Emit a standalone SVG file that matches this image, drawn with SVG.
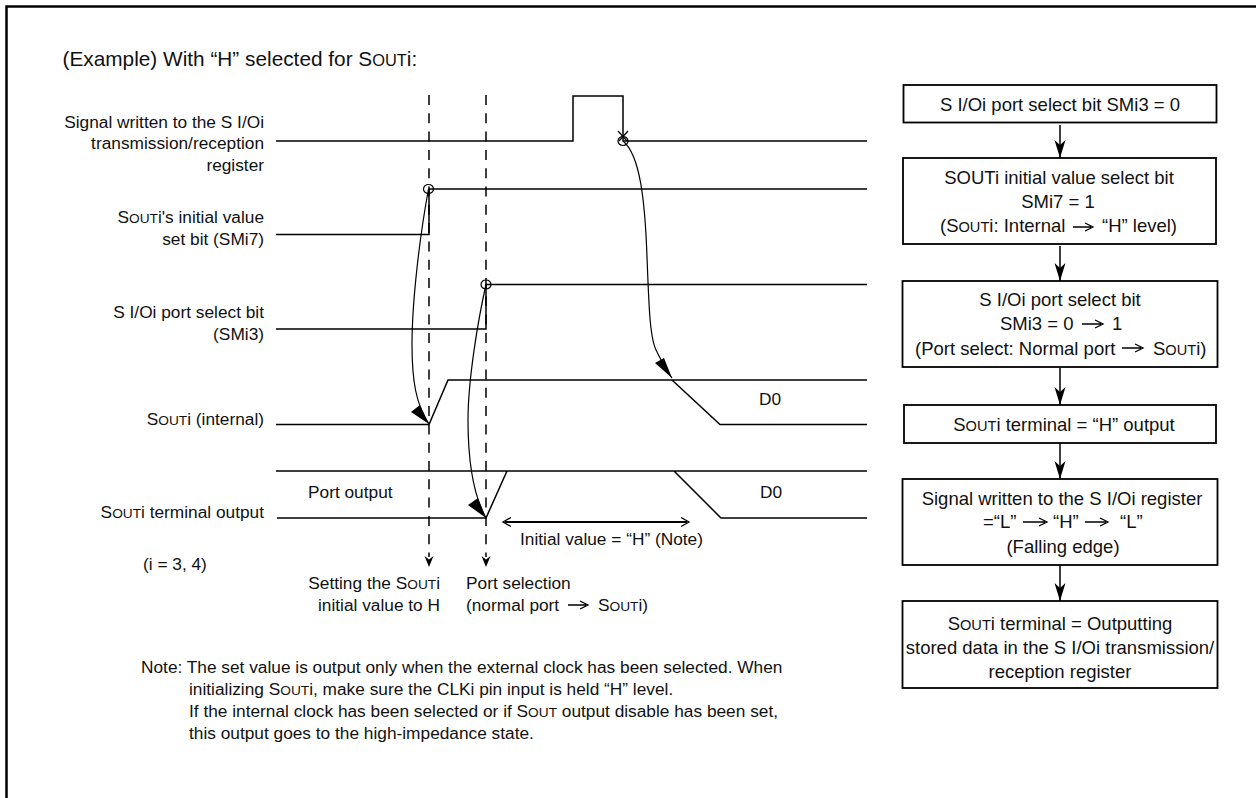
<svg xmlns="http://www.w3.org/2000/svg" width="1256" height="798" viewBox="0 0 1256 798">
<style>
text{font-family:"Liberation Sans",Arial,sans-serif;font-size:17.3px;fill:#111}
.m{text-anchor:middle}.e{text-anchor:end}
.sc{font-size:13.7px}
.t{font-size:20.8px}.t .sc{font-size:16.4px}
.f text{font-size:18.5px}.f .sc{font-size:14.6px}
.l,.s{fill:none;stroke:#000;stroke-width:1.5}
.d{stroke-dasharray:10 8.3;fill:none;stroke:#000;stroke-width:1.5}
.c{fill:none;stroke:#000;stroke-width:1.2}
.b{fill:#fff;stroke:#000;stroke-width:1.8}
.a{fill:#000;stroke:none}
.ar{fill:none;stroke:#000;stroke-width:1.3}
</style>
<defs>
<marker id="fl" markerUnits="userSpaceOnUse" markerWidth="20" markerHeight="18" refX="18" refY="9" orient="auto"><path d="M0,3.500L18,9L0,14.500L5,9Z" fill="#000"/></marker>
</defs>
<path id="frame" d="M6.500 798V6.500H1256" fill="none" stroke="#000" stroke-width="2.500"/>
<text class="t" x="62.500" y="66">(Example) With “H” selected for S<tspan class="sc">OUT</tspan>i:</text>
<g id="labels">
<text class="e" x="264" y="128">Signal written to the S I/Oi</text>
<text class="e" x="264" y="149">transmission/reception</text>
<text class="e" x="264" y="171">register</text>
<text class="e" x="264" y="223">S<tspan class="sc">OUT</tspan>i's initial value</text>
<text class="e" x="264" y="245">set bit (SMi7)</text>
<text class="e" x="264" y="318">S I/Oi port select bit</text>
<text class="e" x="264" y="340">(SMi3)</text>
<text class="e" x="264" y="425">S<tspan class="sc">OUT</tspan>i (internal)</text>
<text class="e" x="264" y="518">S<tspan class="sc">OUT</tspan>i terminal output</text>
<text x="143" y="570">(i = 3, 4)</text>
<text x="308" y="498">Port output</text>
<text x="759" y="405">D0</text>
<text x="760" y="498">D0</text>
<text x="520" y="545">Initial value = “H” (Note)</text>
<text class="e" x="440" y="589">Setting the S<tspan class="sc">OUT</tspan>i</text>
<text class="e" x="440" y="611">initial value to H</text>
<text x="466" y="589">Port selection</text>
<text x="466" y="611">(normal port</text>
<text x="598" y="611">S<tspan class="sc">OUT</tspan>i)</text>
<text x="141" y="673">Note: The set value is output only when the external clock has been selected. When</text>
<text x="189" y="695">initializing S<tspan class="sc">OUT</tspan>i, make sure the CLKi pin input is held “H” level.</text>
<text x="189" y="717">If the internal clock has been selected or if S<tspan class="sc">OUT</tspan> output disable has been set,</text>
<text x="189" y="739">this output goes to the high-impedance state.</text>
</g>
<g id="connectors">
<path class="d" d="M429 95V557"/>
<path class="d" d="M486 95V557"/>
<path class="a" d="M424.500 556L429 567L433.500 556L429 559.500ZM481.500 556L486 567L490.500 556L486 559.500Z"/>
<path class="l" d="M276 141H573V96H623V141H867"/>
<path class="l" d="M276 234.500H429V189H867"/>
<path class="l" d="M276 329H486V284.500H867"/>
<path class="l" d="M276 424.500H429L448 380H867M672 380L720 424.500H867"/>
<path class="l" d="M276 471H867M277 518H486L507 471M674 471L721 518H867"/>
<path class="c" d="M618 131L627 141M628 131L619 141"/>
<ellipse class="c" cx="623" cy="141" rx="5" ry="4.500"/>
<ellipse class="c" cx="428.500" cy="189" rx="5" ry="4.500"/>
<ellipse class="c" cx="486" cy="284.500" rx="5" ry="4.500"/>
<path class="c" d="M428.500 189C420 235 412 300 412 345C412 380 416 405 429 424"/>
<path class="c" d="M486 284.500C478 320 468 380 468 420C468 470 476 500 486 518"/>
<path class="c" d="M623 141C640 155 645 200 647 257C649 310 650 340 657 352C662 362 667 372 672 378"/>
<path class="a" d="M429 424L411 412L420 405Z"/>
<path class="a" d="M486 518L468 505L478 498Z"/>
<path class="a" d="M672 378L655 363L664 358Z"/>
<path class="ar" style="stroke-width:2" d="M505 522H687"/>
<path class="ar" d="M511 517.500L503 522L511 526.500M681 517.500L689 522L681 526.500"/>
<path class="ar" d="M568 605H586M580 601L588 605L580 609"/>
<path class="s" marker-end="url(#fl)" d="M1060 125V158"/>
<path class="s" marker-end="url(#fl)" d="M1060 246V281"/>
<path class="s" marker-end="url(#fl)" d="M1060 368V405"/>
<path class="s" marker-end="url(#fl)" d="M1060 443V479"/>
<path class="s" marker-end="url(#fl)" d="M1060 565V601"/>
</g>
<g id="n1" class="f"><rect class="b" x="903.500" y="85" width="313" height="37.500"/><text class="m" x="1060" y="111">S I/Oi port select bit SMi3 = 0</text></g>
<g id="n2" class="f"><rect class="b" x="903" y="158" width="313" height="86"/><text class="m" x="1059" y="184">SOUTi initial value select bit</text><text class="m" x="1058" y="208">SMi7 = 1</text><text x="940" y="232">(S<tspan class="sc">OUT</tspan>i: Internal</text><text x="1102" y="232">“H” level)</text><path class="ar" d="M1073 227H1091M1085 223L1093 227L1085 231"/></g>
<g id="n3" class="f"><rect class="b" x="902.500" y="281" width="315" height="86"/><text class="m" x="1060" y="306">S I/Oi port select bit</text><text x="1000" y="330">SMi3 = 0</text><text x="1112" y="330">1</text><path class="ar" d="M1082 324H1101M1095 320L1103 324L1095 328"/><text x="915" y="355">(Port select: Normal port</text><text x="1153" y="355">S<tspan class="sc">OUT</tspan>i)</text><path class="ar" d="M1122 348H1141M1135 344L1143 348L1135 352"/></g>
<g id="n4" class="f"><rect class="b" x="904" y="405" width="312" height="38"/><text class="m" x="1064" y="431">S<tspan class="sc">OUT</tspan>i terminal = “H” output</text></g>
<g id="n5" class="f"><rect class="b" x="902.500" y="479" width="315" height="86"/><text class="m" x="1062" y="505">Signal written to the S I/Oi register</text><text x="983" y="528">=“L”</text><text x="1053" y="528">“H”</text><text x="1120" y="528">“L”</text><path class="ar" d="M1023 522H1045M1039 518L1047 522L1039 526M1085 522H1106M1100 518L1108 522L1100 526"/><text class="m" x="1063" y="553">(Falling edge)</text></g>
<g id="n6" class="f"><rect class="b" x="902.500" y="601" width="315" height="87"/><text class="m" x="1060" y="630">S<tspan class="sc">OUT</tspan>i terminal = Outputting</text><text class="m" x="1060" y="654">stored data in the S I/Oi transmission/</text><text class="m" x="1060" y="678">reception register</text></g>
</svg>
